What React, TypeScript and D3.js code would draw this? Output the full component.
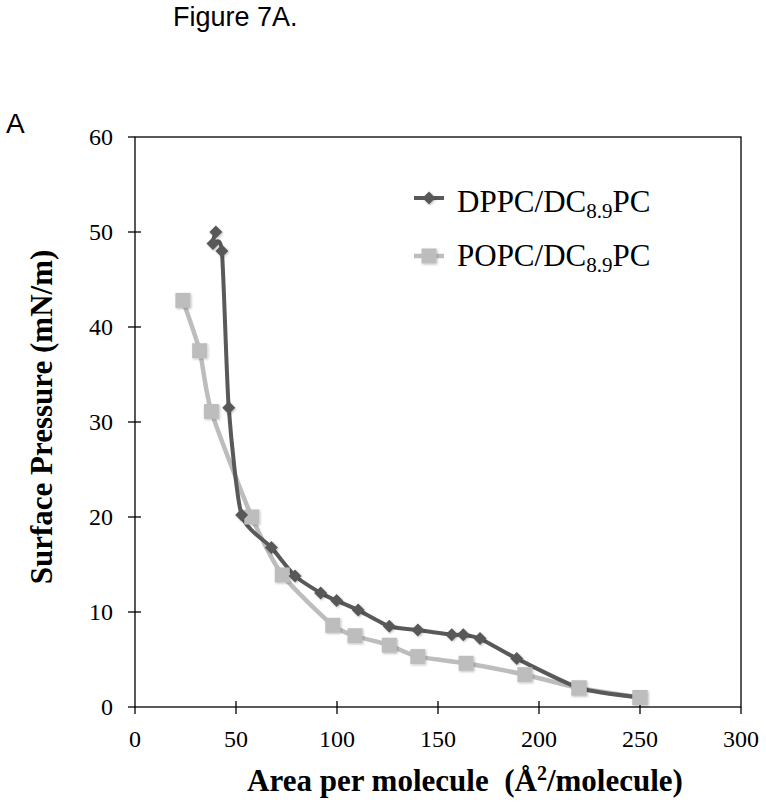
import React from "react";
import * as d3 from "d3";

const dppcX = [40, 38.6, 43, 46.4, 52.8, 67.5, 79.2, 91.9, 99.8, 110.5, 125.9, 140, 156.8, 162.5, 170.8, 189, 220, 250];
const dppcY = [50, 48.8, 48.0, 31.5, 20.2, 16.8, 13.8, 12.0, 11.2, 10.2, 8.5, 8.1, 7.6, 7.6, 7.2, 5.1, 2.0, 1.0];
const popcX = [23.7, 32, 37.8, 57.8, 72.9, 97.9, 108.9, 125.9, 140, 163.9, 193, 219.8, 250];
const popcY = [42.8, 37.5, 31.1, 20.0, 13.9, 8.6, 7.5, 6.5, 5.3, 4.6, 3.4, 2.0, 1.0];
const xTicks = [0, 50, 100, 150, 200, 250, 300];
const yTicks = [0, 10, 20, 30, 40, 50, 60];

const DARK = "#595959";
const LIGHT = "#bdbdbd";

export default function App() {
  const W = 766, H = 802;
  const x = d3.scaleLinear().domain([0, 300]).range([135, 741]);
  const y = d3.scaleLinear().domain([0, 60]).range([707, 137]);
  const line = d3
    .line<[number, number]>()
    .x((d) => x(d[0]))
    .y((d) => y(d[1]))
    .curve(d3.curveCardinal.tension(0.35));
  const dppc: [number, number][] = dppcX.map((v, i) => [v, dppcY[i]]);
  const popc: [number, number][] = popcX.map((v, i) => [v, popcY[i]]);
  const diamond = (cx: number, cy: number, r = 6.5) =>
    `M${cx},${cy - r}L${cx + r},${cy}L${cx},${cy + r}L${cx - r},${cy}Z`;
  const serif = "'Liberation Serif', 'DejaVu Serif', serif";
  const sans = "'Liberation Sans', Arial, sans-serif";
  const x0 = x(0), x1 = x(300), y0 = y(0), y1 = y(60);

  return (
    <svg width={W} height={H} style={{ position: "absolute", left: 0, top: 0, background: "#fff" }}>
      <defs>
        <filter id="sh" x="-50%" y="-50%" width="200%" height="200%">
          <feDropShadow dx="1" dy="1" stdDeviation="1" floodColor="#000" floodOpacity="0.25" />
        </filter>
      </defs>
      <rect width={W} height={H} fill="#fff" />
      <text x={173} y={26} fontFamily={sans} fontSize={27} fill="#000">Figure 7A.</text>
      <text x={6} y={133} fontFamily={sans} fontSize={28} fill="#000">A</text>

      {/* frame */}
      <rect x={x0} y={y1} width={x1 - x0} height={y0 - y1} fill="none" stroke="#000" strokeWidth={1.3} />
      {/* y ticks */}
      {yTicks.map((t) => (
        <g key={"y" + t}>
          <line x1={x0 - 7} x2={x0 + (t === 60 || t === 0 ? 0 : 6)} y1={y(t)} y2={y(t)} stroke="#000" strokeWidth={1.3} />
          <text x={113} y={y(t)} dy="0.35em" textAnchor="end" fontFamily={serif} fontSize={24} fill="#000">{t}</text>
        </g>
      ))}
      {/* x ticks */}
      {xTicks.map((t) => (
        <g key={"x" + t}>
          <line x1={x(t)} x2={x(t)} y1={y0 - (t === 0 || t === 300 ? 0 : 6)} y2={y0 + 7} stroke="#000" strokeWidth={1.3} />
          <text x={x(t)} y={747} textAnchor="middle" fontFamily={serif} fontSize={24} fill="#000">{t}</text>
        </g>
      ))}

      {/* series */}
      <path d={line(popc) || ""} fill="none" stroke={LIGHT} strokeWidth={4.5} strokeLinejoin="round" />
      <path d={line(dppc) || ""} fill="none" stroke={DARK} strokeWidth={4} strokeLinejoin="round" />
      <g filter="url(#sh)">
        {popc.map((d, i) => (
          <rect key={"p" + i} x={x(d[0]) - 7.5} y={y(d[1]) - 7.5} width={15} height={15} fill={LIGHT} />
        ))}
        {dppc.map((d, i) => (
          <path key={"d" + i} d={diamond(x(d[0]), y(d[1]))} fill={DARK} />
        ))}
        {popc.slice(-2).map((d, i) => (
          <rect key={"pe" + i} x={x(d[0]) - 7.5} y={y(d[1]) - 7.5} width={15} height={15} fill={LIGHT} />
        ))}
      </g>

      {/* legend */}
      <line x1={414} x2={444} y1={198} y2={198} stroke={DARK} strokeWidth={4} />
      <path d={diamond(429, 198)} fill={DARK} filter="url(#sh)" />
      <text x={457} y={212} fontFamily={serif} fontSize={31} fill="#000">
        DPPC/DC<tspan fontSize={21} dy={6}>8.9</tspan><tspan dy={-6}>PC</tspan>
      </text>
      <line x1={414} x2={444} y1={256} y2={256} stroke={LIGHT} strokeWidth={4.5} />
      <rect x={429 - 7.5} y={256 - 7.5} width={15} height={15} fill={LIGHT} filter="url(#sh)" />
      <text x={457} y={266} fontFamily={serif} fontSize={31} fill="#000">
        POPC/DC<tspan fontSize={21} dy={6}>8.9</tspan><tspan dy={-6}>PC</tspan>
      </text>

      {/* axis titles */}
      <text x={465} y={791} textAnchor="middle" fontFamily={serif} fontWeight="bold" fontSize={31} fill="#000">
        Area per molecule{"\u00a0\u00a0"}(Å<tspan fontSize={20} dy={-11}>2</tspan><tspan dy={11}>/molecule)</tspan>
      </text>
      <text
        transform={`translate(52, 417) rotate(-90)`}
        textAnchor="middle"
        fontFamily={serif}
        fontWeight="bold"
        fontSize={31}
        fill="#000"
      >
        Surface Pressure (mN/m)
      </text>
    </svg>
  );
}
